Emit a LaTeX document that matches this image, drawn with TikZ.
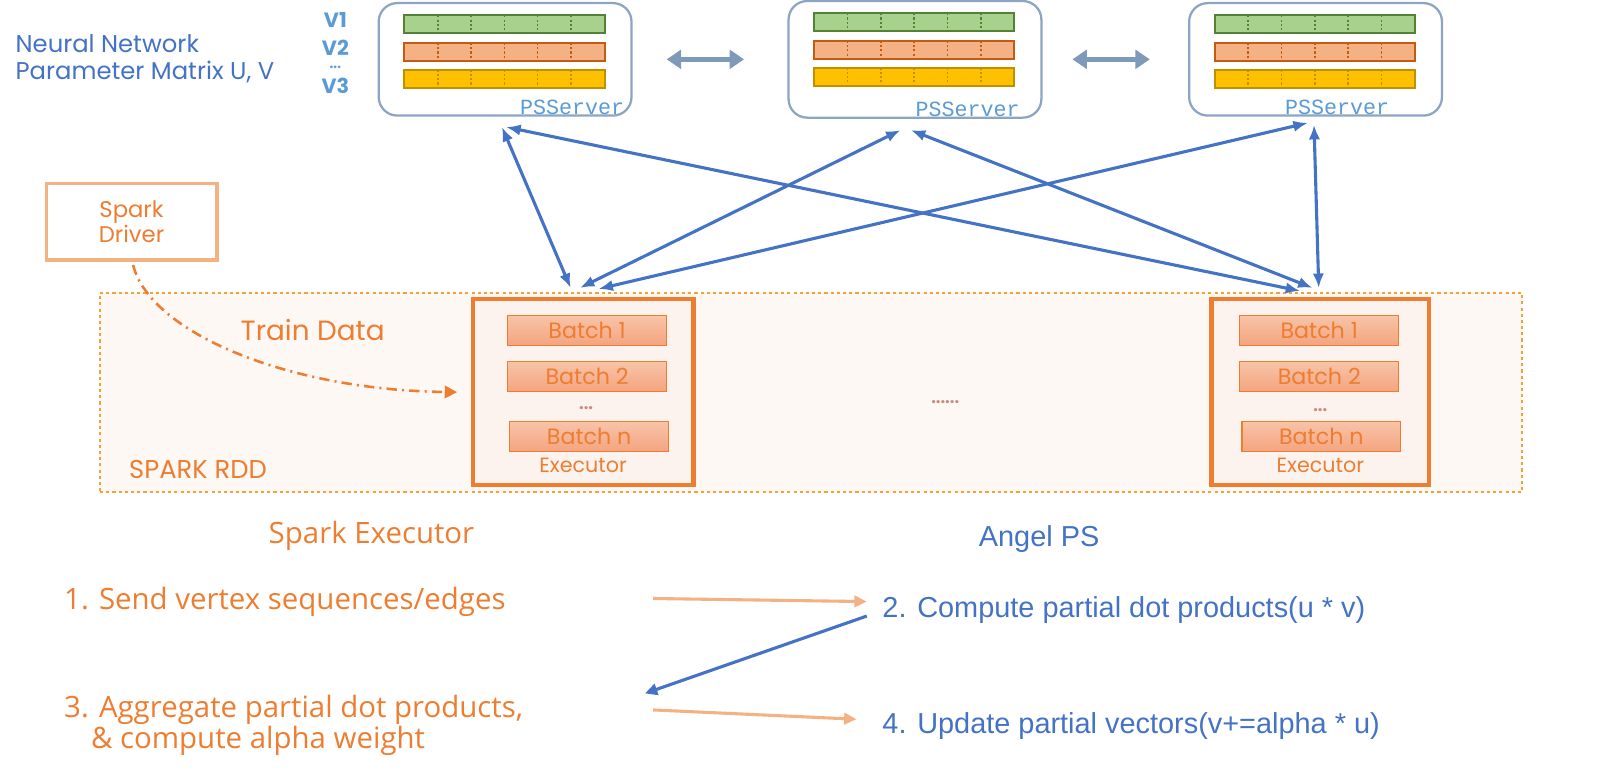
\documentclass[tikz,border=0pt]{standalone}
\usepackage{fontspec}
\newfontfamily\comicfont{Poppins}
\newfontfamily\yaheifont{Open Sans}
\newfontfamily\arialfont{Liberation Sans}
\newfontfamily\psfont{Liberation Mono}
\usepackage{tikz}
\usetikzlibrary{arrows.meta,%
	calc}
\usetikzlibrary {positioning}
\definecolor{nnblue}{HTML}{4472C4}
\definecolor{vblue}{HTML}{5B9BD5}
\definecolor{psgray}{HTML}{8CA5C4}
\definecolor{linkgray}{HTML}{7F9AB8}
\definecolor{sorange}{HTML}{ED7D31}
\definecolor{lorange}{HTML}{F4B183}
\definecolor{rddorange}{HTML}{F7A035}
\definecolor{rddfill}{HTML}{FEF8F5}
\definecolor{execfill}{HTML}{FDF3EE}
\definecolor{batchtop}{HTML}{F8C4A8}
\definecolor{batchbot}{HTML}{F4A47F}
\definecolor{dotpink}{HTML}{C98A7E}
\definecolor{vgreen}{HTML}{548235}
\definecolor{vgreenfill}{HTML}{A9D18E}
\definecolor{vorange}{HTML}{C55A11}
\definecolor{vorangefill}{HTML}{F4B183}
\definecolor{vyellow}{HTML}{BF9000}
\definecolor{vyellowfill}{HTML}{FFC000}

\begin{document}
\begin{tikzpicture}[x = 1pt, y = -1pt,
	psbox/.style = {draw = psgray, line width = 2.2pt, rounded corners = 18pt, minimum width = 245pt, minimum height = 109pt},
	pslabel/.style = {font = \psfont\fontsize{21}{22}\selectfont, text = vblue, anchor = south east, inner sep = 0pt},
	vlabel/.style = {font = \comicfont\bfseries\fontsize{20}{27}\selectfont, text = vblue, inner sep = 0pt},
	nnlabel/.style = {font = \comicfont\fontsize{23.5}{27}\selectfont, text = nnblue, anchor = west, align = left, inner sep = 0pt},
	psarrow/.style = {linkgray, line width = 5pt, {Triangle[length = 14pt, width = 18pt]}-{Triangle[length = 14pt, width = 18pt]}},
	link/.style = {nnblue, line width = 3pt, {Latex[length = 14pt, width = 11pt]}-{Latex[length = 14pt, width = 11pt]}},
	rddbox/.style = {draw = rddorange, fill = rddfill, line width = 2pt, dash pattern = on 3pt off 3pt, minimum width = 1378pt, minimum height = 193pt},
	exec/.style = {draw = sorange, fill = execfill, line width = 4pt, minimum width = 214pt, minimum height = 180pt},
	batch/.style = {draw = sorange, line width = 1.2pt, top color = batchtop, bottom color = batchbot, minimum width = 154pt, minimum height = 29pt, inner sep = 0pt, font = \comicfont\fontsize{21.5}{22}\selectfont, text = sorange},
	execlabel/.style = {font = \comicfont\fontsize{20}{22}\selectfont, text = sorange, inner sep = 0pt},
	dots/.style = {font = \comicfont\bfseries\fontsize{16}{18}\selectfont, text = dotpink, inner sep = 0pt},
	driver/.style = {draw = lorange, line width = 3.5pt, minimum width = 165pt, minimum height = 74pt, align = center, font = \comicfont\fontsize{22}{24}\selectfont, text = sorange},
	orangelabel/.style = {font = \comicfont\fontsize{25}{28}\selectfont, text = sorange, inner sep = 0pt},
	feed/.style = {sorange, line width = 2.5pt, dash pattern = on 10pt off 5pt on 2pt off 5pt, -{Triangle[length = 12pt, width = 12pt]}},
	titleorange/.style = {font = \yaheifont\fontsize{28.5}{30}\selectfont, text = sorange, inner sep = 0pt},
	titleblue/.style = {font = \arialfont\fontsize{28}{30}\selectfont, text = nnblue, inner sep = 0pt},
	steporange/.style = {font = \yaheifont\fontsize{28.5}{31}\selectfont, text = sorange, anchor = west, inner sep = 0pt},
	stepblue/.style = {font = \arialfont\fontsize{28}{30}\selectfont, text = nnblue, anchor = west, inner sep = 0pt},
	sendarrow/.style = {lorange, line width = 3pt, -{Triangle[length = 12pt, width = 11pt]}},
	backarrow/.style = {nnblue, line width = 3pt, -{Triangle[length = 12pt, width = 11pt]}}]
	\useasboundingbox (0,0) rectangle (1568,753);
	\node[rddbox] (rdd) at (786,380.5) {};
	\node[psbox] (ps1) at (489.5,57.5) {};
	\node[psbox, minimum height = 113pt] (ps2) [right = 150pt of ps1] {};
	\node[psbox] (ps3) [right = 141pt of ps2] {};
	\foreach \p in {ps1, ps2, ps3}
		\foreach \col/\fil/\off in {vgreen/vgreenfill/13, vorange/vorangefill/40, vyellow/vyellowfill/66} {
			\draw[draw = \col, fill = \fil, line width = 2pt] ($(\p.north west) + (26,\off)$) rectangle ++(194,17);
			\foreach \i in {1,...,5}
				\draw[\col, line width = 1.5pt, dash pattern = on 2pt off 2pt] ($(\p.north west) + (26 + 32.3*\i,\off)$) -- ++(0,17);
		}
	\node[pslabel] (psl1) at ($(ps1.south east) + (-8,-2)$) {PSServer};
	\node[pslabel] (psl2) at ($(ps2.south east) + (-22,-2)$) {PSServer};
	\node[pslabel] (psl3) at ($(ps3.south east) + (-52,-2)$) {PSServer};
	\node[nnlabel] (nn) at (15,57) {Neural Network\\Parameter Matrix U, V};
	\node[vlabel, anchor = north, align = center] (vcol) at (325,12) {V1\\V2\\[-14pt]{\fontsize{13}{14}\selectfont...}\\[-3pt]V3};
	\draw[psarrow, shorten <= 33pt, shorten >= 42pt] (ps1.east) -- (ps2.west);
	\draw[psarrow, shorten <= 29pt, shorten >= 37pt] (ps2.east) -- (ps3.west);
	\node[driver] (drv) at (127.5,215) {Spark\\Driver};
	\node[exec] (ex1) at (565,380) {};
	\node[exec, minimum width = 211pt] (ex2) [right = 498pt of ex1] {};
	\node[batch] (b11) at ($(ex1.north) + (4,32)$) {Batch 1};
	\node[batch] (b12) [below = 14.5pt of b11] {Batch 2};
	\node[batch] (b1n) [below = 28pt of b12, xshift = 2pt] {Batch n};
	\node[dots] (d1) at ($(b12.south) + (-1,16)$) {...};
	\node[execlabel] (e1) at ($(b1n.south) + (-6,13)$) {Executor};
	\node[batch] (b21) at ($(ex2.north) + (-1,32)$) {Batch 1};
	\node[batch] (b22) [below = 14.5pt of b21] {Batch 2};
	\node[batch] (b2n) [below = 28pt of b22, xshift = 2pt] {Batch n};
	\node[dots] (d2) at ($(b22.south) + (1,18)$) {...};
	\node[execlabel] (e2) at ($(b2n.south) + (-1,13)$) {Executor};
	\node[dots] (mid) at (916,390) {......};
	\node[orangelabel, font = \comicfont\fontsize{27}{28}\selectfont] (td) at (303,320) {Train Data};
	\node[orangelabel, anchor = west] (rl) at (125,455) {SPARK RDD};
	\draw[feed] ($(drv.south) + (1.5,3)$) .. controls ($(drv.south) + (17.5,68)$) and ($(ex1.west) + (-178,-2)$) .. ($(ex1.west) + (-13,0)$);
	\draw[link] ($(ps1.south) + (-3,10)$) -- ($(ex1.north) + (-12,-9)$);
	\draw[link] ($(ps1.south) + (1,10)$) -- ($(ex2.north) + (-19.5,-6)$);
	\draw[link] ($(ps2.south) + (-14,11)$) -- ($(ex1.north) + (-3,-9)$);
	\draw[link] ($(ps2.south) + (-4,11)$) -- ($(ex2.north) + (-7.5,-9)$);
	\draw[link] ($(ps3.south) + (-7.5,6)$) -- ($(ex1.north) + (15,-8)$);
	\draw[link] ($(ps3.south) + (-1.5,8)$) -- ($(ex2.north) + (-1.5,-9)$);
	\node[titleorange] (sx) at (360,519) {Spark Executor};
	\node[titleblue] (aps) at (1007,522) {Angel PS};
	\node[steporange] (s1) at (62,583) {1. Send vertex sequences/edges};
	\node[stepblue] (s2) at (855,591) {2. Compute partial dot products(u * v)};
	\node[steporange, align = left, font = \yaheifont\fontsize{28.5}{30}\selectfont] (s3) at (62,703) {3. Aggregate partial dot products,\\\hspace*{26pt}\& compute alpha weight};
	\node[stepblue] (s4) at (855,704) {4. Update partial vectors(v+=alpha * u)};
	\draw[sendarrow] ($(s2.west) + (-222,-11)$) -- ($(s2.west) + (-15,-8)$);
	\draw[backarrow] ($(s2.west) + (-15,6)$) -- ($(s4.west) + (-230,-32)$);
	\draw[sendarrow] ($(s4.west) + (-222,-16)$) -- ($(s4.west) + (-25,-7)$);
\end{tikzpicture}
\end{document}
